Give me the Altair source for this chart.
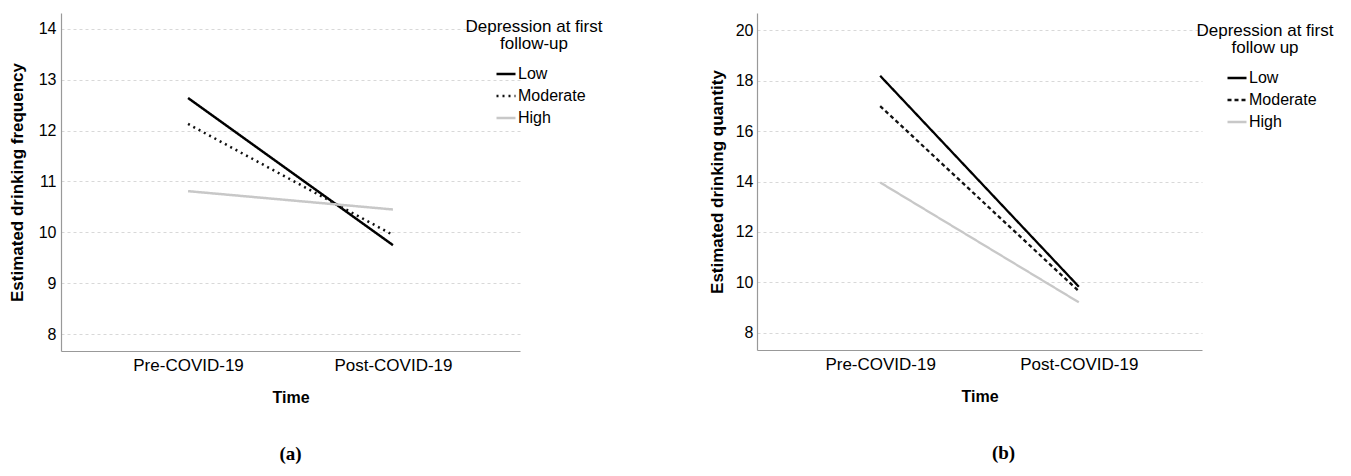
import altair as alt
import pandas as pd

times = ["Pre-COVID-19", "Post-COVID-19"]
groups = ["Low", "Moderate", "High"]

freq_low = [12.64, 9.75]
freq_mod = [12.13, 9.95]
freq_high = [10.81, 10.45]

qty_low = [18.19, 9.83]
qty_mod = [16.99, 9.65]
qty_high = [13.96, 9.21]

freq_ticks = [8, 9, 10, 11, 12, 13, 14]
qty_ticks = [8, 10, 12, 14, 16, 18, 20]

def make_df(series):
    rows = []
    for g, vals in zip(groups, series):
        for t, v in zip(times, vals):
            rows.append({"Time": t, "group": g, "value": v})
    return pd.DataFrame(rows)

df_a = make_df([freq_low, freq_mod, freq_high])
df_b = make_df([qty_low, qty_mod, qty_high])

FONT = "Liberation Sans"

def panel(df, ytitle, ydomain, yticks, legend_title, dashes, width, height,
          legend_x, legend_y, caption, cap_dx, label_pad, title_pad, stroke_w):
    leg = alt.Legend(
        title=legend_title, orient="none", legendX=legend_x, legendY=legend_y,
        titleFont=FONT, titleFontSize=17, titleFontWeight="normal", titleColor="#000",
        titleAnchor="middle", titleAlign="center", titleLineHeight=17, titlePadding=10,
        labelFont=FONT, labelFontSize=16, labelColor="#000", labelOffset=1,
        symbolType="stroke", symbolSize=361, symbolStrokeWidth=2.5,
        symbolOffset=12, rowPadding=3,
    )
    base = alt.Chart(df).mark_line(strokeWidth=stroke_w).encode(
        x=alt.X("Time:N", sort=times,
                scale=alt.Scale(type="point", padding=0.62),
                axis=alt.Axis(title="Time", labelAngle=0, ticks=False, grid=False,
                              labelPadding=6, titlePadding=16,
                              domainColor="#999", domainWidth=1.2,
                              labelFont=FONT, labelFontSize=17, labelColor="#000",
                              titleFont=FONT, titleFontSize=16, titleFontWeight="bold",
                              titleColor="#000")),
        y=alt.Y("value:Q",
                scale=alt.Scale(domain=ydomain, nice=False, zero=False),
                axis=alt.Axis(title=ytitle, values=yticks, ticks=False, grid=True,
                              gridColor="#d8d8d8", gridDash=[3, 3], gridWidth=1,
                              labelPadding=label_pad, titlePadding=title_pad,
                              domainColor="#999", domainWidth=1.2,
                              labelFont=FONT, labelFontSize=16, labelColor="#000",
                              titleFont=FONT, titleFontSize=17, titleFontWeight="bold",
                              titleColor="#000")),
        color=alt.Color("group:N", sort=groups,
                        scale=alt.Scale(domain=groups, range=["#000000", "#111111", "#c8c8c8"]),
                        legend=leg),
        strokeDash=alt.StrokeDash("group:N", sort=groups,
                                  scale=alt.Scale(domain=groups, range=dashes),
                                  legend=leg),
        detail="group:N",
    ).properties(
        width=width, height=height,
        title=alt.TitleParams(caption, orient="bottom", anchor="middle", frame="group",
                              font="Liberation Serif", fontSize=19, fontWeight="bold",
                              color="#000", offset=40, dx=cap_dx),
    )
    return base

a = panel(df_a, "Estimated drinking frequency", [7.67, 14.31], freq_ticks,
          ["Depression at first", "follow-up"], [[1, 0], [2, 4], [1, 0]],
          459, 338, 405, 6, "(a)", 0, 5, 12, 2.5)
b = panel(df_b, "Estimated drinking quantity", [7.32, 20.68], qty_ticks,
          ["Depression at first", "follow up"], [[1, 0], [4, 3], [1, 0]],
          445, 337, 440, 10, "(b)", 24, 4, 9, 2.3)

chart = alt.hconcat(a, b, spacing=105).resolve_scale(
    color="independent", strokeDash="independent"
).resolve_legend(
    color="independent", strokeDash="independent"
).configure_view(stroke=None).properties(
    padding={"left": 0, "top": 5, "right": 0, "bottom": 0}
)

chart.save("out.html", embed_options={"renderer": "svg", "actions": False})
